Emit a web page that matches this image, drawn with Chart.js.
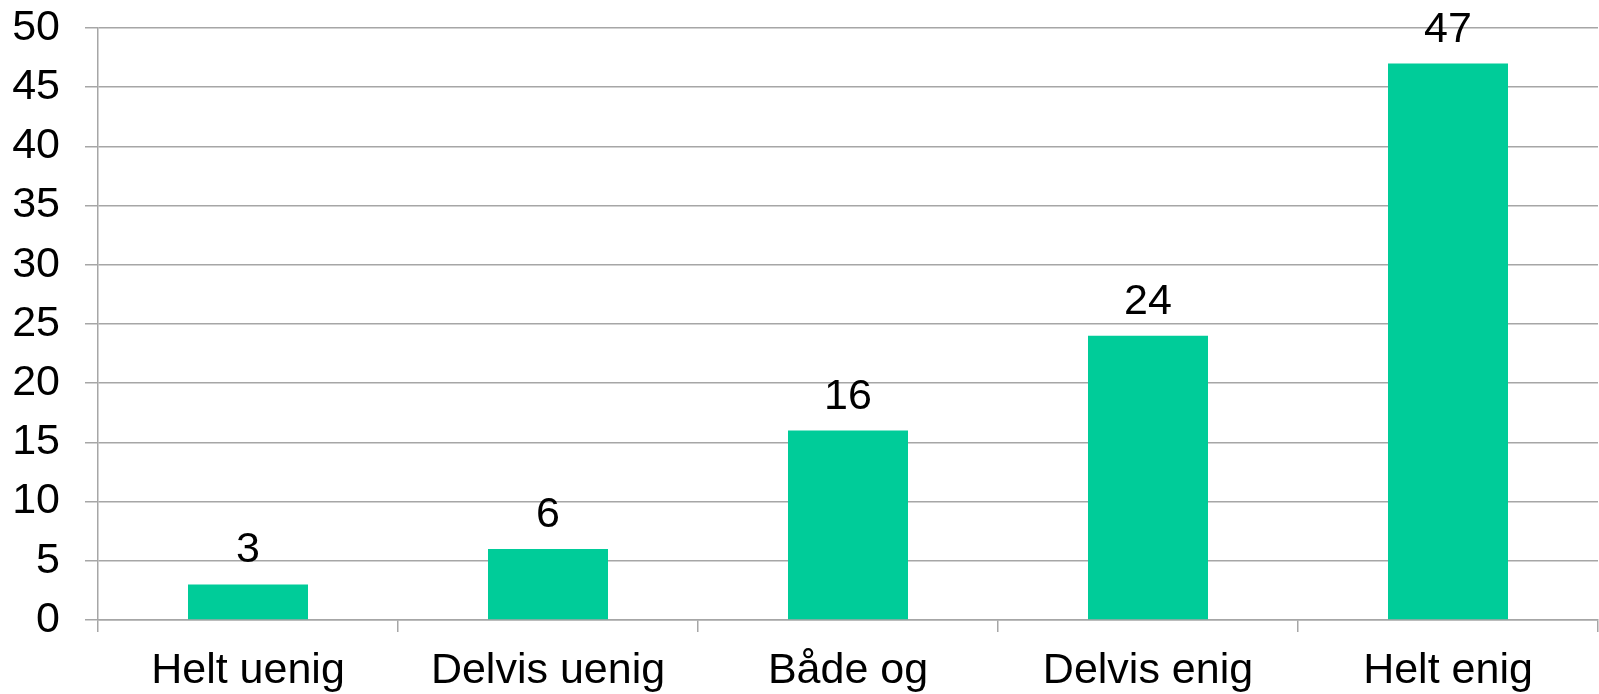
<!DOCTYPE html>
<html>
<head>
<meta charset="utf-8">
<title>Svarfordeling</title>
<script src="https://cdn.jsdelivr.net/npm/chart.js@4"></script>
<style>
  html, body { margin: 0; padding: 0; background: #ffffff; }
  #wrap { width: 1599px; height: 694px; }
</style>
</head>
<body>
<div id="wrap"><canvas id="myChart" width="1599" height="694"></canvas></div>
<script>
// data
const categories = ['Helt uenig', 'Delvis uenig', 'Både og', 'Delvis enig', 'Helt enig'];
const counts = [3, 6, 16, 24, 47];
const yTicks = [0, 5, 10, 15, 20, 25, 30, 35, 40, 45, 50];

const gridColor = '#a6a6a6';
const barColor = '#00cc99';
const font = { family: 'Arial, "Liberation Sans", sans-serif', size: 43 };

// draws the value above every bar
const valueLabels = {
    id: 'valueLabels',
    afterDatasetsDraw(chart) {
        const ctx = chart.ctx;
        const meta = chart.getDatasetMeta(0);
        ctx.save();
        ctx.font = font.size + 'px ' + font.family;
        ctx.fillStyle = '#000000';
        ctx.textAlign = 'center';
        ctx.textBaseline = 'alphabetic';
        meta.data.forEach((bar, i) => {
            ctx.fillText(String(counts[i]), bar.x, bar.y - 22);
        });
        ctx.restore();
    }
};

Chart.defaults.font.family = font.family;
Chart.defaults.color = '#000000';

myChart = new Chart(document.getElementById('myChart'), {
    type: 'bar',
    data: {
        labels: categories,
        datasets: [{
            data: counts,
            backgroundColor: barColor,
            borderWidth: 0,
            barPercentage: 0.4,
            categoryPercentage: 1.0
        }]
    },
    options: {
        responsive: false,
        animation: false,
        layout: { padding: { top: 28, right: 1, left: 12, bottom: 0 } },
        plugins: {
            legend: { display: false },
            tooltip: { enabled: false }
        },
        scales: {
            x: {
                offset: true,
                afterFit(axis) { axis.height = 74; },
                grid: {
                    offset: true,
                    drawOnChartArea: false,
                    drawTicks: true,
                    tickLength: 12,
                    color: gridColor,
                    lineWidth: 1.5
                },
                border: { display: true, color: gridColor, width: 1.5 },
                ticks: { font: font, padding: 13, color: '#000000', maxRotation: 0 }
            },
            y: {
                min: 0,
                max: 50,
                afterFit(axis) {
                    axis.width = 86;
                    axis.paddingTop = 0;
                    axis.paddingBottom = 0;
                },
                afterBuildTicks(axis) {
                    axis.ticks = yTicks.map(v => ({ value: v }));
                },
                grid: {
                    color: gridColor,
                    lineWidth: 1.5,
                    drawTicks: true,
                    tickLength: 13
                },
                border: { display: true, color: gridColor, width: 1.5 },
                ticks: { font: font, padding: 25, color: '#000000' }
            }
        }
    },
    plugins: [valueLabels]
});
</script>
</body>
</html>
